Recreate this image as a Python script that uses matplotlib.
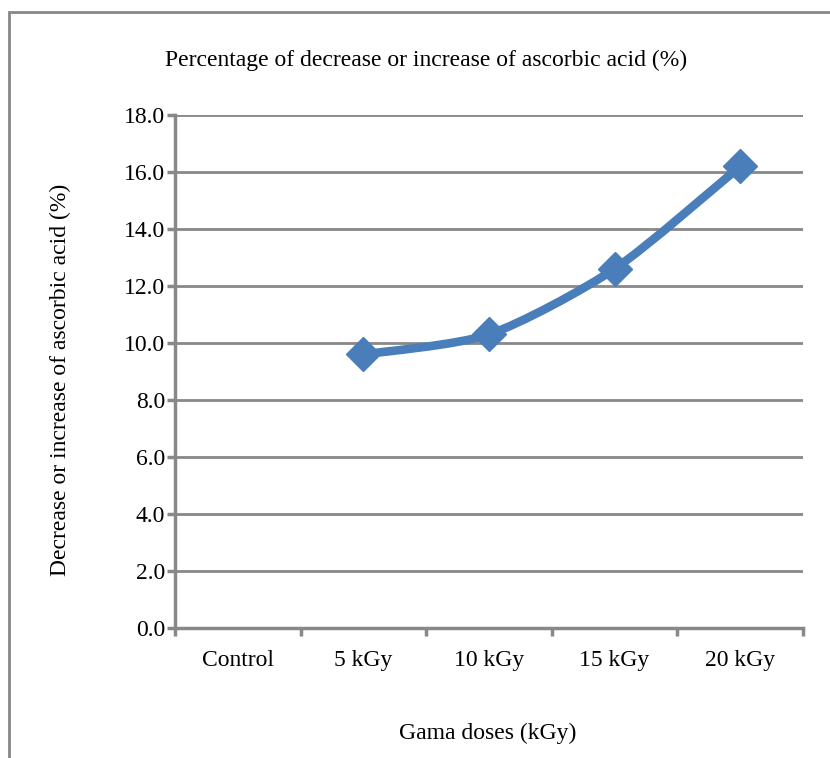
import matplotlib
matplotlib.use("Agg")
import matplotlib.pyplot as plt
from matplotlib.path import Path
from matplotlib.patches import PathPatch, Rectangle
import numpy as np

# Данные
doses = ["Control", "5 kGy", "10 kGy", "15 kGy", "20 kGy"]
change_pct = [np.nan, 9.6, 10.3, 12.6, 16.2]
y_ticks = [0.0, 2.0, 4.0, 6.0, 8.0, 10.0, 12.0, 14.0, 16.0, 18.0]

plt.rcParams['font.family'] = ['Liberation Serif', 'DejaVu Serif']

grey = '#888888'
blue = '#4a7ebb'

fig = plt.figure(figsize=(8.30, 7.58), dpi=100)
ax = fig.add_axes([175 / 830, 1 - 628 / 758, 628 / 830, 513 / 758])

x = np.arange(len(doses))
y = np.array(change_pct)
ok = ~np.isnan(y)
xs, ys = x[ok].astype(float), y[ok]

# сглаженная линия как в Excel (кривые Безье через точки)
k = 1 / 8
verts = [(xs[0], ys[0])]
codes = [Path.MOVETO]
for i in range(len(xs) - 1):
    x0, y0 = (xs[i - 1], ys[i - 1]) if i > 0 else (xs[i], ys[i])
    x1, y1 = xs[i], ys[i]
    x2, y2 = xs[i + 1], ys[i + 1]
    x3, y3 = (xs[i + 2], ys[i + 2]) if i + 2 < len(xs) else (x2, y2)
    c1 = (x1 + (x2 - x0) * k, y1 + (y2 - y0) * k)
    c2 = (x2 - (x3 - x1) * k, y2 - (y3 - y1) * k)
    verts += [c1, c2, (x2, y2)]
    codes += [Path.CURVE4] * 3
ax.add_patch(PathPatch(Path(verts, codes), facecolor='none', edgecolor=blue,
                       lw=6.2, capstyle='round', joinstyle='round', zorder=3))
ax.plot(x, y, linestyle='none', marker='D', markersize=17, color=blue, zorder=4)

ax.set_xlim(-0.5, len(doses) - 0.5)
ax.set_ylim(0, 18)
ax.set_yticks(y_ticks)
ax.set_yticklabels([f"{v:.1f}" for v in y_ticks])
ax.set_xticks(x)
ax.set_xticklabels(doses)
ax.set_xticks(np.arange(len(doses) + 1) - 0.5, minor=True)
ax.tick_params(axis='x', which='major', length=0, pad=16, labelsize=17)
ax.tick_params(axis='x', which='minor', length=6, width=2.5, color=grey, direction='out')
ax.tick_params(axis='y', length=6, width=2.5, color=grey, direction='out', pad=1, labelsize=17)

ax.grid(True, axis='y', color=grey, lw=2)
ax.set_axisbelow(True)
for s in ['top', 'right']:
    ax.spines[s].set_visible(False)
for s in ['left', 'bottom']:
    ax.spines[s].set_color(grey)
    ax.spines[s].set_linewidth(2.5)

fig.text(426 / 830, 1 - 60 / 758, 'Percentage of decrease or increase of ascorbic acid (%)',
         ha='center', va='center', fontsize=17)
fig.text(60 / 830, 1 - 380 / 758, 'Decrease or increase of ascorbic acid (%)',
         ha='center', va='center', rotation=90, fontsize=17)
fig.text(488 / 830, 1 - 733 / 758, 'Gama doses (kGy)', ha='center', va='center', fontsize=17)

# рамка области диаграммы
fig.patches.append(Rectangle((9 / 830, -0.1), 2, 1.1 - 12 / 758, transform=fig.transFigure,
                             fill=False, edgecolor=grey, lw=2))

fig.savefig('out.png', dpi=100)
